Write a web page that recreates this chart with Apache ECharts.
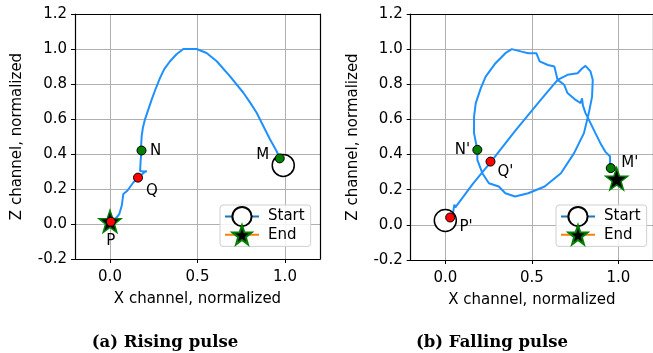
<!DOCTYPE html>
<html>
<head>
<meta charset="utf-8">
<script src="https://cdn.jsdelivr.net/npm/echarts@6/dist/echarts.min.js"></script>
<style>
  html, body { margin: 0; padding: 0; background: #fff; }
  #pulseCharts { width: 653px; height: 353px; }
</style>
</head>
<body>
<div id="pulseCharts"></div>
<script>
// ---- data ----
var xTicks = [0.0, 0.5, 1.0];
var yTicks = [-0.2, 0.0, 0.2, 0.4, 0.6, 0.8, 1.0, 1.2];

// (a) rising pulse trajectory, from M to P
var risingPath = [
  [0.97, 0.375], [0.95, 0.42], [0.914, 0.484], [0.876, 0.56], [0.838, 0.636],
  [0.8, 0.695], [0.762, 0.75], [0.686, 0.844], [0.61, 0.93], [0.552, 0.977],
  [0.495, 1.0], [0.419, 1.0], [0.38, 0.97], [0.343, 0.93], [0.31, 0.885],
  [0.286, 0.835], [0.26, 0.77], [0.238, 0.711], [0.2, 0.598], [0.188, 0.55],
  [0.181, 0.503], [0.178, 0.45], [0.18, 0.42], [0.175, 0.36], [0.172, 0.303],
  [0.19, 0.3], [0.21, 0.302], [0.19, 0.29], [0.165, 0.27], [0.133, 0.237],
  [0.099, 0.19], [0.076, 0.171], [0.067, 0.104], [0.053, 0.057], [0.038, 0.038],
  [0.015, 0.02], [0.0, 0.013]
];
var risingStart = [[0.99, 0.335]];
var risingEnd = [[0.0, 0.015]];
var risingGreen = [["M", 0.97, 0.375], ["N", 0.18, 0.42]];
var risingRed = [["Q", 0.16, 0.265], ["P", 0.005, 0.013]];

// (b) falling pulse trajectory, from P' to M'
var fallingPath = [
  [0.045, 0.07], [0.052, 0.115], [0.058, 0.1], [0.16, 0.235], [0.261, 0.355],
  [0.4, 0.53], [0.55, 0.71], [0.649, 0.825], [0.706, 0.854], [0.764, 0.863],
  [0.79, 0.89], [0.81, 0.905], [0.839, 0.873], [0.852, 0.825], [0.85, 0.78],
  [0.848, 0.73], [0.829, 0.636], [0.801, 0.522], [0.744, 0.408], [0.668, 0.294],
  [0.574, 0.218], [0.479, 0.18], [0.403, 0.161], [0.347, 0.18], [0.309, 0.218],
  [0.252, 0.237], [0.214, 0.294], [0.185, 0.37], [0.185, 0.427], [0.166, 0.522],
  [0.166, 0.616], [0.176, 0.693], [0.205, 0.778], [0.233, 0.844], [0.29, 0.92],
  [0.347, 0.977], [0.384, 1.0], [0.441, 0.986], [0.479, 0.977], [0.526, 0.977],
  [0.545, 0.93], [0.593, 0.91], [0.63, 0.901], [0.649, 0.825], [0.687, 0.797],
  [0.706, 0.75], [0.753, 0.711], [0.782, 0.693], [0.79, 0.72], [0.795, 0.68],
  [0.81, 0.636], [0.839, 0.579], [0.867, 0.522], [0.896, 0.465], [0.924, 0.417],
  [0.952, 0.389], [0.952, 0.341], [0.956, 0.323]
];
var fallingStart = [[0.0, 0.025]];
var fallingEnd = [[0.99, 0.262]];
var fallingGreen = [["M'", 0.956, 0.323], ["N'", 0.185, 0.427]];
var fallingRed = [["Q'", 0.261, 0.36], ["P'", 0.028, 0.042]];

// ---- styling ----
var FONT = "DejaVu Sans";
var STAR = "path://M0,-10L2.35,-3.24L9.51,-3.09L3.8,1.24L5.88,8.09L0,4L-5.88,8.09L-3.8,1.24L-9.51,-3.09L-2.35,-3.24Z";
// label offsets in px, relative to the dot centre
var labelOffset = {
  "M": [-17, -3], "N": [14, 1], "Q": [14, 13], "P": [0, 19],
  "M'": [19, -5], "N'": [-15, 0], "Q'": [15, 11], "P'": [16, 10]
};
var fmt1 = function (v) { return v.toFixed(1); };

function xAxisOf(idx) {
  return {
    type: "value", gridIndex: idx, min: -0.2, max: 1.2, position: "bottom",
    name: "X channel, normalized", nameLocation: "middle", nameGap: 33,
    nameTextStyle: { fontFamily: FONT, fontSize: 15, color: "#000" },
    axisLine: { onZero: false, lineStyle: { color: "#000", width: 1.2 } },
    axisTick: { show: true, length: 4, customValues: xTicks, lineStyle: { color: "#000" } },
    axisLabel: { customValues: xTicks, margin: 11, fontFamily: FONT, fontSize: 15, color: "#000", formatter: fmt1 },
    splitLine: { show: false }
  };
}

// top copy of the x axis: box edge plus the vertical grid lines
function xGridOf(idx) {
  return {
    type: "value", gridIndex: idx, min: -0.2, max: 1.2, position: "top",
    axisLine: { show: true, onZero: false, lineStyle: { color: "#000", width: 1.2 } },
    axisTick: { show: false, customValues: xTicks },
    axisLabel: { show: false, customValues: xTicks },
    splitLine: { show: true, lineStyle: { color: "#b0b0b0", width: 1 } }
  };
}

function yAxisOf(idx) {
  return {
    type: "value", gridIndex: idx, min: -0.2, max: 1.2, interval: 0.2, position: "left",
    name: "Z channel, normalized", nameLocation: "middle", nameGap: 50,
    nameTextStyle: { fontFamily: FONT, fontSize: 15, color: "#000" },
    axisLine: { onZero: false, lineStyle: { color: "#000", width: 1.2 } },
    axisTick: { show: true, length: 4, lineStyle: { color: "#000" } },
    axisLabel: { margin: 8, fontFamily: FONT, fontSize: 15, color: "#000", formatter: fmt1 },
    splitLine: { show: true, lineStyle: { color: "#b0b0b0", width: 1 } }
  };
}

function yEdgeOf(idx) {
  return {
    type: "value", gridIndex: idx, min: -0.2, max: 1.2, interval: 0.2, position: "right",
    axisLine: { show: true, onZero: false, lineStyle: { color: "#000", width: 1.2 } },
    axisTick: { show: false }, axisLabel: { show: false }, splitLine: { show: false }
  };
}

function dots(idx, rows, color) {
  return {
    type: "scatter", xAxisIndex: idx, yAxisIndex: idx, z: 5,
    symbol: "circle", symbolSize: 9,
    itemStyle: { color: color, borderColor: "#000", borderWidth: 1, opacity: 1 },
    label: {
      show: true, position: "inside", fontFamily: FONT, fontSize: 15, color: "#000",
      formatter: function (p) { return p.name; }
    },
    data: rows.map(function (r) {
      return { name: r[0], value: [r[1], r[2]], label: { offset: labelOffset[r[0]] } };
    })
  };
}

function panelSeries(idx, path, start, end, green, red) {
  return [
    {
      name: "path" + idx, type: "line", xAxisIndex: idx, yAxisIndex: idx, z: 2,
      showSymbol: false, symbol: "none",
      lineStyle: { color: "#1e90ff", width: 2 },
      data: path
    },
    {
      name: "Start", type: "line", xAxisIndex: idx, yAxisIndex: idx, z: 3,
      symbol: "circle", symbolSize: 22, showSymbol: true,
      lineStyle: { color: "#1f77b4", width: 2 },
      itemStyle: { color: "#fff", borderColor: "#000", borderWidth: 1.5 },
      data: start
    },
    {
      name: "End", type: "line", xAxisIndex: idx, yAxisIndex: idx, z: 3,
      symbol: STAR, symbolSize: 22, showSymbol: true,
      lineStyle: { color: "#ff7f0e", width: 2 },
      itemStyle: { color: "#000", borderColor: "#008000", borderWidth: 1.5 },
      data: end
    },
    dots(idx, green, "#008000"),
    dots(idx, red, "#ff0000")
  ];
}

function legendAt(left) {
  return {
    data: ["Start", "End"], orient: "vertical", left: left, top: 205,
    itemWidth: 34, itemHeight: 24, itemGap: -3,
    padding: [1, 6, 1, 4], borderColor: "#d0d0d0", borderWidth: 1, borderRadius: 3,
    backgroundColor: "rgba(255,255,255,0.85)",
    selectedMode: false,
    textStyle: { fontFamily: FONT, fontSize: 15, color: "#000", padding: [0, 0, 0, 4] }
  };
}

var captionStyle = { fontFamily: "DejaVu Serif", fontWeight: "bold", fontSize: 16.5, color: "#000" };

var option = {
  animation: false,
  backgroundColor: "#fff",
  title: [
    { text: "(a) Rising pulse", left: 160, top: 329, textAlign: "center", textStyle: captionStyle },
    { text: "(b) Falling pulse", left: 487, top: 329, textAlign: "center", textStyle: captionStyle }
  ],
  grid: [
    { left: 75, top: 14, width: 245, height: 245 },
    { left: 410.7, top: 14, width: 245, height: 246 }
  ],
  legend: [legendAt(220), legendAt(556)],
  // 0,1: bottom axes; 2,3: top edges carrying the vertical grid lines
  xAxis: [xAxisOf(0), xAxisOf(1), xGridOf(0), xGridOf(1)],
  yAxis: [yAxisOf(0), yAxisOf(1), yEdgeOf(0), yEdgeOf(1)],
  series: panelSeries(0, risingPath, risingStart, risingEnd, risingGreen, risingRed)
    .concat(panelSeries(1, fallingPath, fallingStart, fallingEnd, fallingGreen, fallingRed))
};

var myChart = echarts.init(document.getElementById("pulseCharts"));
myChart.setOption(option);
</script>
</body>
</html>
